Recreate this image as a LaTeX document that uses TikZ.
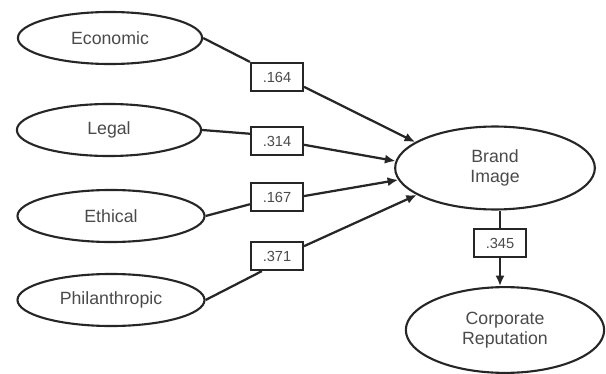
\documentclass[tikz,border=0pt]{standalone}
\usepackage{fontspec}
\setmainfont{Liberation Sans}
\usetikzlibrary{arrows.meta,shapes.geometric}
\definecolor{linegray}{HTML}{262626}
\definecolor{textgray}{HTML}{4A4A4A}

\begin{document}
\begin{tikzpicture}[x=0.025cm, y=-0.025cm,
		latent/.style={ellipse, draw=linegray, line width=1.5pt, inner sep=0pt,
			text=textgray, font=\fontsize{12.6}{14.2}\selectfont, align=center},
		coef/.style={rectangle, draw=linegray, line width=1.5pt, inner sep=0pt,
			minimum width=37pt, minimum height=20pt, text=textgray, font=\fontsize{10.4}{12}\selectfont},
		path/.style={draw=linegray, line width=1.6pt},
		effect/.style={path, -{Latex[length=7.5pt,width=6.5pt]}}]
			%%%%% START %%%%%
			
			\useasboundingbox (0, 0) rectangle (606, 374);
			
			% exogenous factors
			\node[latent, minimum width=131pt, minimum height=37pt] (eco) at (110, 38) {Economic};
			\node[latent, minimum width=131pt, minimum height=37pt] (leg) at (109, 130) {Legal};
			\node[latent, minimum width=133pt, minimum height=37pt] (eth) at (111, 216) {Ethical};
			\node[latent, minimum width=133pt, minimum height=37pt] (phi) at (111, 300) {Philanthropic};
			
			% endogenous factors
			\node[latent, minimum width=142pt, minimum height=59pt] (brand) at (495, 168) {Brand\\Image};
			\node[latent, minimum width=141pt, minimum height=61pt] (corp) at (505, 330) {Corporate\\Reputation};
			
			% path coefficients
			\node[coef] (b164) at (277, 77) {.164};
			\node[coef] (b314) at (277, 141) {.314};
			\node[coef] (b167) at (277, 197) {.167};
			\node[coef] (b371) at (277, 256) {.371};
			\node[coef] (b345) at (500, 243) {.345};
			
			\draw[path] (eco.east) -- (b164.north west);
			\draw[effect] (b164.-20) -- (brand.162);
			
			\draw[path] (leg.east) -- (b314.165);
			\draw[effect] (b314.-8) -- (brand.176);
			
			\draw[path] (eth.east) -- (b167.-165);
			\draw[effect] (b167.2) -- (brand.187);
			
			\draw[path] (phi.east) -- (b371.-135);
			\draw[effect] (b371.20) -- (brand.199);
			
			\draw[path] (brand.south -| b345.north) -- (b345.north);
			\draw[effect] (b345.south) -- (b345.south |- corp.north);
			
			%%%%% END %%%%%
		\end{tikzpicture}
\end{document}
